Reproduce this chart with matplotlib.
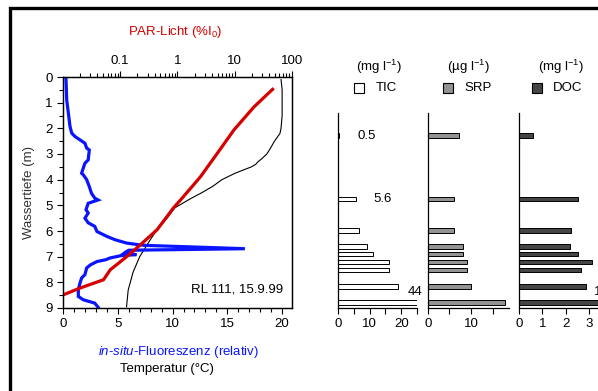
import matplotlib
matplotlib.use('Agg')
import matplotlib.pyplot as plt
from matplotlib.patches import Rectangle
from matplotlib.ticker import MultipleLocator, LogLocator, NullFormatter, FixedLocator

plt.rcParams['font.family'] = ['Liberation Sans', 'DejaVu Sans']
plt.rcParams['mathtext.default'] = 'regular'
plt.rcParams['mathtext.fontset'] = 'custom'
plt.rcParams['mathtext.rm'] = 'Liberation Sans'
plt.rcParams['mathtext.it'] = 'Liberation Sans:italic'
plt.rcParams['font.size'] = 9

# temperature profile (degC)
temp_depth = [0.1, 0.5, 1.0, 1.5, 2.0, 2.2, 2.5, 2.8, 3.0, 3.2, 3.3, 3.4, 3.5, 3.75,
              4.0, 4.25, 4.5, 4.75, 5.1, 5.5, 6.0, 6.35, 7.0, 7.6, 8.3, 8.95]
temp = [19.9, 20.0, 20.0, 20.0, 19.9, 19.8, 19.3, 18.9, 18.6, 18.1, 17.8, 17.6, 17.2, 15.7,
        14.5, 13.7, 12.7, 11.6, 10.2, 9.5, 8.5, 7.95, 7.0, 6.4, 5.95, 5.8]

# PAR light (% of surface)
par_depth = [0.48, 1.16, 2.06, 2.97, 3.88, 4.3, 4.79, 5.1, 5.95, 6.54, 6.99, 7.51, 7.9, 8.22, 8.5]
par = [45.8, 21.8, 9.7, 4.97, 2.53, 1.75, 1.13, 0.85, 0.44, 0.224, 0.131, 0.067, 0.051, 0.02, 0.0098]

# in-situ fluorescence (relative)
fl_depth = [0.05, 0.9, 1.41, 1.93, 2.19, 2.32, 2.45, 2.58, 2.77, 2.84, 3.23, 3.36, 3.55, 3.75,
            3.81, 4.0, 4.27, 4.53, 4.72, 4.79, 4.92, 5.17, 5.3, 5.5, 5.68, 5.82, 6.02, 6.21,
            6.34, 6.47, 6.54, 6.56, 6.69, 6.75, 6.80, 6.86, 6.92, 6.96, 7.05, 7.12, 7.19,
            7.32, 7.44, 7.7, 7.83, 8.03, 8.29, 8.55, 8.68, 8.81, 8.97]
fl = [0.27, 0.34, 0.49, 0.64, 0.8, 1.1, 1.55, 2.0, 2.16, 2.4, 2.3, 2.0, 1.85, 1.7,
      1.85, 2.16, 2.4, 2.6, 2.9, 3.2, 2.3, 2.1, 2.3, 2.0, 2.3, 2.9, 3.1, 4.0,
      4.75, 5.8, 7.0, 7.5, 16.6, 6.0, 5.8, 5.6, 6.7, 5.3, 4.3, 3.9, 3.1,
      2.5, 2.16, 2.0, 1.7, 1.55, 1.4, 1.4, 1.85, 2.9, 3.2]

# chemistry samples
sample_depth = [2.28, 4.75, 5.98, 6.60, 6.90, 7.21, 7.52, 8.16, 8.78]
tic = [0.5, 5.6, 6.6, 9.3, 11.0, 16.2, 16.2, 19.0, 44]
srp = [7.1, 6.1, 6.1, 8.1, 8.1, 9.1, 9.1, 10.0, 17.9]
doc = [0.6, 2.55, 2.25, 2.17, 2.55, 3.14, 2.66, 2.86, 14]

W, H = 598, 391
fig = plt.figure(figsize=(W / 100, H / 100), dpi=100)


def px(l, r, t, b):
    return [l / W, (H - b) / H, (r - l) / W, (b - t) / H]


ax = fig.add_axes(px(63, 292, 77, 308))
ax.plot(temp, temp_depth, color='black', lw=0.8)
ax.plot(fl, fl_depth, color='#0a14ff', lw=2.3, solid_joinstyle='miter')
ax.set_xlim(0, 20.9)
ax.set_ylim(9, 0)
ax.xaxis.set_major_locator(MultipleLocator(5))
ax.xaxis.set_minor_locator(MultipleLocator(1))
ax.yaxis.set_major_locator(MultipleLocator(1))
ax.yaxis.set_minor_locator(MultipleLocator(0.5))
ax.tick_params(which='both', direction='out', width=0.8, labelsize=9.5)
ax.tick_params(which='major', length=4)
ax.tick_params(which='minor', length=3)
ax.set_ylabel('Wassertiefe (m)', fontsize=9.5, color='#333333')
ax.yaxis.set_label_coords(-0.124, 0.5)
ax.text(0.962, 0.078, 'RL 111, 15.9.99', transform=ax.transAxes, ha='right', va='center', fontsize=9.5)

ax2 = ax.twiny()
ax2.plot(par, par_depth, color='#d60000', lw=2.3)
ax2.set_xscale('log')
ax2.set_xlim(0.01, 100)
ax2.xaxis.set_major_locator(FixedLocator([0.1, 1, 10, 100]))
ax2.set_xticklabels(['0.1', '1', '10', '100'])
ax2.xaxis.set_minor_locator(LogLocator(base=10, subs=range(2, 10)))
ax2.xaxis.set_minor_formatter(NullFormatter())
ax2.tick_params(which='both', direction='out', width=0.8, labelsize=9.5)
ax2.tick_params(which='major', length=4)
ax2.tick_params(which='minor', length=3)

for a in (ax, ax2):
    for s in a.spines.values():
        s.set_linewidth(0.9)

fig.text(175 / W, 1 - 32 / H, 'PAR-Licht (%I$_0$)', color='#d60000', ha='center', va='center', fontsize=9.5)
fig.text(178 / W, 1 - 352 / H, r'$\mathit{in}$-$\mathit{situ}$-Fluoreszenz (relativ)',
         color='#0a14ff', ha='center', va='center', fontsize=9.5)
fig.text(167 / W, 1 - 369 / H, 'Temperatur (°C)', ha='center', va='center', fontsize=9.5)

# bar panels
panels = [
    (tic, 'white', 25, [0, 10, 20], 5, px(337.7, 417.3, 113, 308)),
    (srp, '#939393', 18.8, [0, 10], 5, px(427.7, 509.3, 113, 308)),
    (doc, '#454545', 3.6, [0, 1, 2, 3], 1, px(519, 603, 113, 308)),
]
bar_axes = []
for vals, col, xmax, labs, minor, pos in panels:
    b = fig.add_axes(pos)
    b.barh(sample_depth, [min(v, xmax) for v in vals], height=0.17, color=col,
           edgecolor='black', linewidth=0.7)
    b.set_xlim(0, xmax)
    b.set_ylim(9, 1.4)
    b.spines['top'].set_visible(False)
    b.spines['right'].set_visible(False)
    b.spines['left'].set_linewidth(0.9)
    b.spines['bottom'].set_linewidth(0.9)
    b.set_yticks([])
    ticks = list(range(0, int(xmax) + 1, minor))
    b.set_xticks(ticks)
    b.set_xticklabels([str(t) if t in labs else '' for t in ticks])
    b.tick_params(direction='out', length=4, width=0.8, labelsize=9.5)
    b.patch.set_alpha(0)
    bar_axes.append(b)

# value labels
btic, bsrp, bdoc = bar_axes
for i in (0, 1):
    btic.annotate(str(tic[i]), (tic[i], sample_depth[i]), xytext=(13, 0), textcoords='offset points',
                  ha='left', va='center', fontsize=9.5)
btic.annotate(str(tic[-1]), (25, sample_depth[-1]), xytext=(4, 3), textcoords='offset points',
              ha='right', va='bottom', fontsize=9.5)
bdoc.annotate(str(doc[-1]), (3.6, sample_depth[-1]), xytext=(4, 3), textcoords='offset points',
              ha='right', va='bottom', fontsize=9.5)

# legend headers
headers = [('(mg l$^{-1}$)', 379, 'TIC', 354.3, 376, 'white'),
           ('(µg l$^{-1}$)', 468, 'SRP', 442.7, 464, '#939393'),
           ('(mg l$^{-1}$)', 561, 'DOC', 532.3, 553.3, '#454545')]
for unit, ux, name, bx, tx, col in headers:
    fig.text(ux / W, 1 - 66.7 / H, unit, ha='center', va='center', fontsize=9.5)
    fig.add_artist(Rectangle((bx / W, 1 - 92.7 / H), 10 / W, 10 / H, transform=fig.transFigure,
                             facecolor=col, edgecolor='black', lw=0.8))
    fig.text(tx / W, 1 - 87.7 / H, name, ha='left', va='center', fontsize=9.5)

# outer frame
fig.add_artist(Rectangle((10 / W, -0.1), 1.2, 1 - 7.7 / H + 0.1, transform=fig.transFigure,
                         fill=False, edgecolor='black', lw=2.4, clip_on=False))

fig.savefig('out.png', dpi=100)
